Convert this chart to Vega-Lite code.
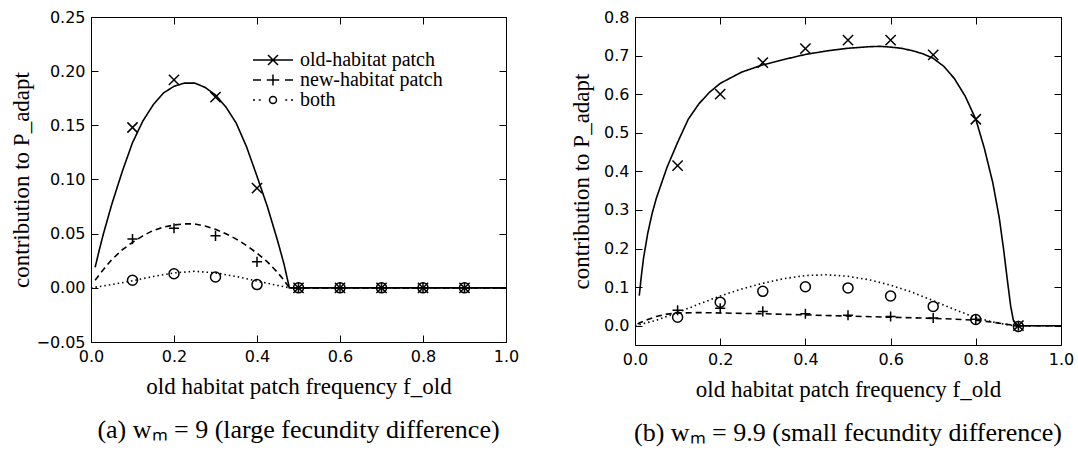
{
  "$schema": "https://vega.github.io/schema/vega-lite/v6.json",
  "background": "white",
  "padding": {"left": 10, "top": 8, "right": 0, "bottom": 0},
  "datasets": {
    "curves": [
      {"p":"a","s":"old","x":0.01,"y":0.019},{"p":"a","s":"old","x":0.02,"y":0.035},{"p":"a","s":"old","x":0.03,"y":0.05},{"p":"a","s":"old","x":0.05,"y":0.077},{"p":"a","s":"old","x":0.075,"y":0.107},{"p":"a","s":"old","x":0.1,"y":0.134},{"p":"a","s":"old","x":0.125,"y":0.154},{"p":"a","s":"old","x":0.15,"y":0.169},{"p":"a","s":"old","x":0.175,"y":0.18},{"p":"a","s":"old","x":0.2,"y":0.186},{"p":"a","s":"old","x":0.225,"y":0.189},{"p":"a","s":"old","x":0.25,"y":0.189},{"p":"a","s":"old","x":0.275,"y":0.185},{"p":"a","s":"old","x":0.3,"y":0.178},{"p":"a","s":"old","x":0.325,"y":0.167},{"p":"a","s":"old","x":0.35,"y":0.152},{"p":"a","s":"old","x":0.375,"y":0.13},{"p":"a","s":"old","x":0.4,"y":0.103},{"p":"a","s":"old","x":0.425,"y":0.075},{"p":"a","s":"old","x":0.45,"y":0.043},{"p":"a","s":"old","x":0.465,"y":0.022},{"p":"a","s":"old","x":0.478,"y":0.0},{"p":"a","s":"old","x":0.5,"y":0.0},{"p":"a","s":"old","x":1.0,"y":0.0},
      {"p":"a","s":"new","x":0.01,"y":0.007},{"p":"a","s":"new","x":0.03,"y":0.017},{"p":"a","s":"new","x":0.05,"y":0.026},{"p":"a","s":"new","x":0.075,"y":0.035},{"p":"a","s":"new","x":0.1,"y":0.042},{"p":"a","s":"new","x":0.125,"y":0.048},{"p":"a","s":"new","x":0.15,"y":0.053},{"p":"a","s":"new","x":0.175,"y":0.056},{"p":"a","s":"new","x":0.2,"y":0.058},{"p":"a","s":"new","x":0.225,"y":0.059},{"p":"a","s":"new","x":0.25,"y":0.059},{"p":"a","s":"new","x":0.275,"y":0.057},{"p":"a","s":"new","x":0.3,"y":0.054},{"p":"a","s":"new","x":0.325,"y":0.05},{"p":"a","s":"new","x":0.35,"y":0.045},{"p":"a","s":"new","x":0.375,"y":0.039},{"p":"a","s":"new","x":0.4,"y":0.032},{"p":"a","s":"new","x":0.425,"y":0.024},{"p":"a","s":"new","x":0.45,"y":0.014},{"p":"a","s":"new","x":0.465,"y":0.007},{"p":"a","s":"new","x":0.478,"y":0.0},{"p":"a","s":"new","x":0.5,"y":0.0},{"p":"a","s":"new","x":1.0,"y":0.0},
      {"p":"a","s":"both","x":0.0,"y":0.0},{"p":"a","s":"both","x":0.05,"y":0.003},{"p":"a","s":"both","x":0.1,"y":0.0065},{"p":"a","s":"both","x":0.15,"y":0.0105},{"p":"a","s":"both","x":0.2,"y":0.0138},{"p":"a","s":"both","x":0.25,"y":0.0153},{"p":"a","s":"both","x":0.3,"y":0.0138},{"p":"a","s":"both","x":0.35,"y":0.0105},{"p":"a","s":"both","x":0.4,"y":0.0062},{"p":"a","s":"both","x":0.45,"y":0.0022},{"p":"a","s":"both","x":0.478,"y":0.0},{"p":"a","s":"both","x":0.5,"y":0.0},{"p":"a","s":"both","x":1.0,"y":0.0},
      {"p":"b","s":"old","x":0.01,"y":0.078},{"p":"b","s":"old","x":0.015,"y":0.13},{"p":"b","s":"old","x":0.02,"y":0.175},{"p":"b","s":"old","x":0.03,"y":0.24},{"p":"b","s":"old","x":0.04,"y":0.29},{"p":"b","s":"old","x":0.05,"y":0.33},{"p":"b","s":"old","x":0.075,"y":0.41},{"p":"b","s":"old","x":0.1,"y":0.475},{"p":"b","s":"old","x":0.125,"y":0.535},{"p":"b","s":"old","x":0.15,"y":0.575},{"p":"b","s":"old","x":0.175,"y":0.605},{"p":"b","s":"old","x":0.2,"y":0.628},{"p":"b","s":"old","x":0.25,"y":0.657},{"p":"b","s":"old","x":0.3,"y":0.676},{"p":"b","s":"old","x":0.35,"y":0.69},{"p":"b","s":"old","x":0.4,"y":0.703},{"p":"b","s":"old","x":0.45,"y":0.712},{"p":"b","s":"old","x":0.5,"y":0.719},{"p":"b","s":"old","x":0.55,"y":0.723},{"p":"b","s":"old","x":0.575,"y":0.724},{"p":"b","s":"old","x":0.6,"y":0.722},{"p":"b","s":"old","x":0.625,"y":0.719},{"p":"b","s":"old","x":0.65,"y":0.713},{"p":"b","s":"old","x":0.675,"y":0.705},{"p":"b","s":"old","x":0.7,"y":0.693},{"p":"b","s":"old","x":0.725,"y":0.672},{"p":"b","s":"old","x":0.75,"y":0.64},{"p":"b","s":"old","x":0.775,"y":0.595},{"p":"b","s":"old","x":0.8,"y":0.535},{"p":"b","s":"old","x":0.82,"y":0.46},{"p":"b","s":"old","x":0.84,"y":0.37},{"p":"b","s":"old","x":0.855,"y":0.28},{"p":"b","s":"old","x":0.865,"y":0.2},{"p":"b","s":"old","x":0.875,"y":0.11},{"p":"b","s":"old","x":0.882,"y":0.05},{"p":"b","s":"old","x":0.888,"y":0.015},{"p":"b","s":"old","x":0.895,"y":0.0},{"p":"b","s":"old","x":1.0,"y":0.0},
      {"p":"b","s":"new","x":0.006,"y":0.004},{"p":"b","s":"new","x":0.01,"y":0.007},{"p":"b","s":"new","x":0.03,"y":0.016},{"p":"b","s":"new","x":0.05,"y":0.024},{"p":"b","s":"new","x":0.075,"y":0.03},{"p":"b","s":"new","x":0.1,"y":0.033},{"p":"b","s":"new","x":0.15,"y":0.034},{"p":"b","s":"new","x":0.2,"y":0.033},{"p":"b","s":"new","x":0.3,"y":0.031},{"p":"b","s":"new","x":0.4,"y":0.028},{"p":"b","s":"new","x":0.5,"y":0.025},{"p":"b","s":"new","x":0.6,"y":0.022},{"p":"b","s":"new","x":0.7,"y":0.019},{"p":"b","s":"new","x":0.75,"y":0.017},{"p":"b","s":"new","x":0.8,"y":0.014},{"p":"b","s":"new","x":0.84,"y":0.009},{"p":"b","s":"new","x":0.87,"y":0.004},{"p":"b","s":"new","x":0.89,"y":0.001},{"p":"b","s":"new","x":0.9,"y":0.0},{"p":"b","s":"new","x":1.0,"y":0.0},
      {"p":"b","s":"both","x":0.0,"y":0.0},{"p":"b","s":"both","x":0.05,"y":0.014},{"p":"b","s":"both","x":0.1,"y":0.034},{"p":"b","s":"both","x":0.15,"y":0.056},{"p":"b","s":"both","x":0.2,"y":0.077},{"p":"b","s":"both","x":0.25,"y":0.095},{"p":"b","s":"both","x":0.3,"y":0.11},{"p":"b","s":"both","x":0.35,"y":0.122},{"p":"b","s":"both","x":0.4,"y":0.13},{"p":"b","s":"both","x":0.45,"y":0.132},{"p":"b","s":"both","x":0.5,"y":0.128},{"p":"b","s":"both","x":0.55,"y":0.119},{"p":"b","s":"both","x":0.6,"y":0.105},{"p":"b","s":"both","x":0.65,"y":0.087},{"p":"b","s":"both","x":0.7,"y":0.065},{"p":"b","s":"both","x":0.75,"y":0.042},{"p":"b","s":"both","x":0.8,"y":0.021},{"p":"b","s":"both","x":0.85,"y":0.007},{"p":"b","s":"both","x":0.89,"y":0.0},{"p":"b","s":"both","x":1.0,"y":0.0}
    ],
    "pts": [
      {"p":"a","s":"old","x":0.1,"y":0.148},{"p":"a","s":"old","x":0.2,"y":0.192},{"p":"a","s":"old","x":0.3,"y":0.176},{"p":"a","s":"old","x":0.4,"y":0.092},{"p":"a","s":"old","x":0.5,"y":0},{"p":"a","s":"old","x":0.6,"y":0},{"p":"a","s":"old","x":0.7,"y":0},{"p":"a","s":"old","x":0.8,"y":0},{"p":"a","s":"old","x":0.9,"y":0},
      {"p":"a","s":"new","x":0.1,"y":0.045},{"p":"a","s":"new","x":0.2,"y":0.055},{"p":"a","s":"new","x":0.3,"y":0.048},{"p":"a","s":"new","x":0.4,"y":0.024},{"p":"a","s":"new","x":0.5,"y":0},{"p":"a","s":"new","x":0.6,"y":0},{"p":"a","s":"new","x":0.7,"y":0},{"p":"a","s":"new","x":0.8,"y":0},{"p":"a","s":"new","x":0.9,"y":0},
      {"p":"a","s":"both","x":0.1,"y":0.007},{"p":"a","s":"both","x":0.2,"y":0.013},{"p":"a","s":"both","x":0.3,"y":0.010},{"p":"a","s":"both","x":0.4,"y":0.003},{"p":"a","s":"both","x":0.5,"y":0},{"p":"a","s":"both","x":0.6,"y":0},{"p":"a","s":"both","x":0.7,"y":0},{"p":"a","s":"both","x":0.8,"y":0},{"p":"a","s":"both","x":0.9,"y":0},
      {"p":"b","s":"old","x":0.1,"y":0.415},{"p":"b","s":"old","x":0.2,"y":0.6},{"p":"b","s":"old","x":0.3,"y":0.682},{"p":"b","s":"old","x":0.4,"y":0.718},{"p":"b","s":"old","x":0.5,"y":0.74},{"p":"b","s":"old","x":0.6,"y":0.74},{"p":"b","s":"old","x":0.7,"y":0.702},{"p":"b","s":"old","x":0.8,"y":0.535},{"p":"b","s":"old","x":0.9,"y":0.0},
      {"p":"b","s":"new","x":0.1,"y":0.04},{"p":"b","s":"new","x":0.2,"y":0.045},{"p":"b","s":"new","x":0.3,"y":0.037},{"p":"b","s":"new","x":0.4,"y":0.031},{"p":"b","s":"new","x":0.5,"y":0.027},{"p":"b","s":"new","x":0.6,"y":0.024},{"p":"b","s":"new","x":0.7,"y":0.02},{"p":"b","s":"new","x":0.8,"y":0.017},{"p":"b","s":"new","x":0.9,"y":0.0},
      {"p":"b","s":"both","x":0.1,"y":0.022},{"p":"b","s":"both","x":0.2,"y":0.061},{"p":"b","s":"both","x":0.3,"y":0.089},{"p":"b","s":"both","x":0.4,"y":0.101},{"p":"b","s":"both","x":0.5,"y":0.098},{"p":"b","s":"both","x":0.6,"y":0.077},{"p":"b","s":"both","x":0.7,"y":0.05},{"p":"b","s":"both","x":0.8,"y":0.016},{"p":"b","s":"both","x":0.9,"y":-0.002}
    ]
  },
  "config": {
    "view": {"stroke": "black", "strokeWidth": 1},
    "axis": {"domain": false, "grid": false, "tickColor": "black", "tickSize": -7, "labelPadding": 13, "labelFlush": false, "labelFont": "DejaVu Sans", "labelFontSize": 16, "labelColor": "black", "titleFont": "Liberation Serif", "titleFontSize": 23, "titleFontWeight": "normal", "titleColor": "black"},
    "title": {"font": "Liberation Serif", "fontSize": 26, "fontWeight": "normal", "color": "black", "orient": "bottom", "anchor": "middle", "offset": 19},
    "legend": {"labelFont": "Liberation Serif", "labelFontSize": 20, "labelColor": "black", "padding": 0, "rowPadding": 0},
    "concat": {"spacing": 50}
  },
  "hconcat": [
    {
      "width": 415, "height": 325,
      "title": {"text": "(a) wₘ = 9 (large fecundity difference)"},
      "resolve": {"scale": {"shape": "independent"}, "axis": {"x": "independent", "y": "independent"}},
      "layer": [
        {
          "data": {"name": "curves"},
          "transform": [{"filter": "datum.p == 'a'"}],
          "mark": {"type": "line", "color": "black"},
          "encoding": {
            "x": {"field": "x", "type": "quantitative", "scale": {"domain": [0, 1], "nice": false, "zero": false}, "axis": {"values": [0, 0.2, 0.4, 0.6, 0.8, 1.0], "format": ".1f", "title": "old habitat patch frequency f_old", "titlePadding": 11}},
            "y": {"field": "y", "type": "quantitative", "scale": {"domain": [-0.05, 0.25], "nice": false, "zero": false}, "axis": {"values": [-0.05, 0, 0.05, 0.1, 0.15, 0.2, 0.25], "format": ".2f", "title": "contribution to P_adapt", "titlePadding": 2}},
            "strokeDash": {"field": "s", "type": "nominal", "scale": {"domain": ["old", "new", "both"], "range": [[1, 0], [6, 4], [1.5, 3]]}, "legend": null},
            "strokeWidth": {"field": "s", "type": "nominal", "scale": {"domain": ["old", "new", "both"], "range": [1.6, 1.6, 1.1]}, "legend": null}
          }
        },
        {
          "data": {"name": "pts"},
          "transform": [{"filter": "datum.p == 'a'"}],
          "mark": {"type": "point", "filled": false, "color": "black", "strokeWidth": 1.5, "opacity": 1},
          "encoding": {
            "x": {"field": "x", "type": "quantitative", "axis": {"orient": "top", "labels": false, "title": null, "values": [0, 0.2, 0.4, 0.6, 0.8, 1.0]}},
            "y": {"field": "y", "type": "quantitative", "axis": {"orient": "right", "labels": false, "title": null, "values": [-0.05, 0, 0.05, 0.1, 0.15, 0.2, 0.25]}},
            "shape": {"field": "s", "type": "nominal", "scale": {"domain": ["old", "new", "both"], "range": ["M-1,-1L1,1M1,-1L-1,1", "M-1,0L1,0M0,-1L0,1", "circle"]}, "legend": null},
            "size": {"field": "s", "type": "nominal", "scale": {"domain": ["old", "new", "both"], "range": [105, 100, 80]}, "legend": null}
          }
        },
        {
          "data": {"name": "pts"},
          "transform": [{"filter": "false"}],
          "mark": {"type": "point", "filled": false, "color": "black", "strokeWidth": 1.5, "opacity": 1, "size": 100},
          "encoding": {
            "x": {"field": "x", "type": "quantitative", "axis": null},
            "y": {"field": "y", "type": "quantitative", "axis": null},
            "shape": {"field": "s", "type": "nominal", "title": null,
              "scale": {"domain": ["old", "new", "both"], "range": [
                "M-4.0,0L4.0,0M-1.0,-1.0L1.0,1.0M1.0,-1.0L-1.0,1.0",
                "M-4.0,0L-2.4,0M-1.25,0L1.25,0M0,-1.1L0,1.1M2.4,0L4.0,0",
                "M-4.0,0L-3.6,0M-2.85,0L-2.45,0M0.7,0A0.7,0.7 0 1,1 -0.7,0A0.7,0.7 0 1,1 0.7,0M2.45,0L2.85,0M3.6,0L4.0,0"]},
              "legend": {"orient": "none", "legendX": 172, "legendY": 33, "labelOffset": 17, "symbolStrokeColor": "black", "symbolStrokeWidth": 1.5, "symbolFillColor": "transparent", "symbolSize": 100, "symbolOpacity": 1,
                "labelExpr": "datum.label == 'old' ? 'old-habitat patch' : datum.label == 'new' ? 'new-habitat patch' : 'both'"}}
          }
        }
      ]
    },
    {
      "width": 426, "height": 328,
      "title": {"text": "(b) wₘ = 9.9 (small fecundity difference)"},
      "resolve": {"axis": {"x": "independent", "y": "independent"}},
      "layer": [
        {
          "data": {"name": "curves"},
          "transform": [{"filter": "datum.p == 'b'"}],
          "mark": {"type": "line", "color": "black"},
          "encoding": {
            "x": {"field": "x", "type": "quantitative", "scale": {"domain": [0, 1], "nice": false, "zero": false}, "axis": {"values": [0, 0.2, 0.4, 0.6, 0.8, 1.0], "format": ".1f", "title": "old habitat patch frequency f_old", "titlePadding": 11}},
            "y": {"field": "y", "type": "quantitative", "scale": {"domain": [-0.05, 0.8], "nice": false, "zero": false}, "axis": {"values": [0, 0.1, 0.2, 0.3, 0.4, 0.5, 0.6, 0.7, 0.8], "format": ".1f", "title": "contribution to P_adapt", "titlePadding": 10}},
            "strokeDash": {"field": "s", "type": "nominal", "scale": {"domain": ["old", "new", "both"], "range": [[1, 0], [6, 4], [1.5, 3]]}, "legend": null},
            "strokeWidth": {"field": "s", "type": "nominal", "scale": {"domain": ["old", "new", "both"], "range": [1.6, 1.6, 1.1]}, "legend": null}
          }
        },
        {
          "data": {"name": "pts"},
          "transform": [{"filter": "datum.p == 'b'"}],
          "mark": {"type": "point", "filled": false, "color": "black", "strokeWidth": 1.5, "opacity": 1},
          "encoding": {
            "x": {"field": "x", "type": "quantitative", "axis": {"orient": "top", "labels": false, "title": null, "values": [0, 0.2, 0.4, 0.6, 0.8, 1.0]}},
            "y": {"field": "y", "type": "quantitative", "axis": {"orient": "right", "labels": false, "title": null, "values": [0, 0.1, 0.2, 0.3, 0.4, 0.5, 0.6, 0.7, 0.8]}},
            "shape": {"field": "s", "type": "nominal", "scale": {"domain": ["old", "new", "both"], "range": ["M-1,-1L1,1M1,-1L-1,1", "M-1,0L1,0M0,-1L0,1", "circle"]}, "legend": null},
            "size": {"field": "s", "type": "nominal", "scale": {"domain": ["old", "new", "both"], "range": [105, 100, 80]}, "legend": null}
          }
        }
      ]
    }
  ]
}
